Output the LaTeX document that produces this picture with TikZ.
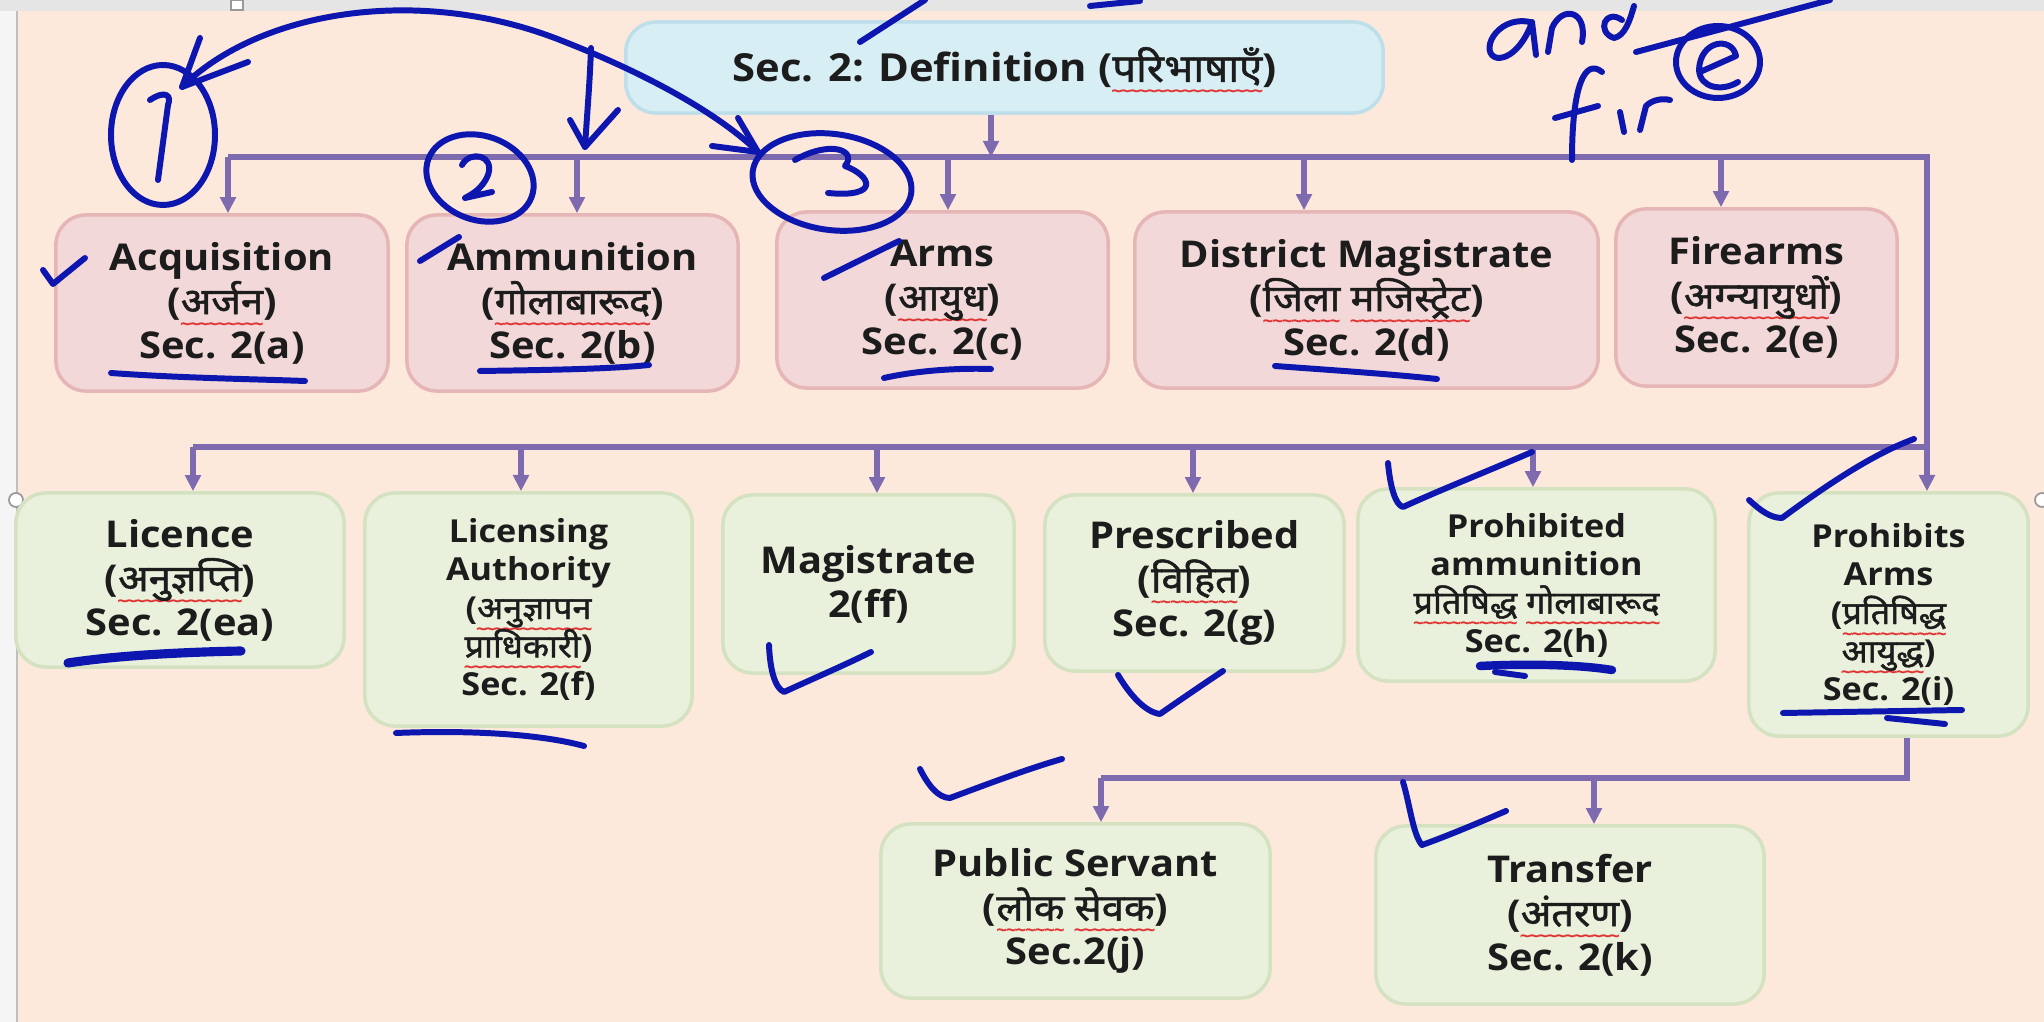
\documentclass[tikz,border=0pt]{standalone}
\usepackage{fontspec}
\setmainfont{Open Sans}[FakeStretch=1.08]
\newfontfamily\dev{Noto Sans}[Script=Devanagari,FakeStretch=1.08,FakeBold=1.4]
\usetikzlibrary{arrows.meta}
\definecolor{peach}{HTML}{FDE9DC}
\definecolor{tfill}{HTML}{D7EEF5}
\definecolor{tdraw}{HTML}{BEDEEA}
\definecolor{pfill}{HTML}{F2D8D8}
\definecolor{pdraw}{HTML}{E6B6B6}
\definecolor{gfill}{HTML}{E9F0DB}
\definecolor{gdraw}{HTML}{D5E2C1}
\definecolor{conn}{HTML}{7E6AAE}
\definecolor{ink}{HTML}{0D17B0}
\definecolor{sqred}{HTML}{E03030}
\definecolor{txt}{HTML}{1C1C1C}
\newcommand\sq[1]{\leavevmode\setbox0\hbox{#1}\rlap{\smash{\lower4.6pt\hbox to\wd0{\color{sqred}\fontsize{5}{5}\selectfont\xleaders\hbox{\kern-0.3pt\char"7E\kern-0.3pt}\hfill}}}\box0\relax}
\tikzset{
  box/.style={rounded corners=0.3cm, line width=1pt, align=center, inner sep=0pt, text=txt,
              font=\bfseries\fontsize{10.5}{12.5}\selectfont},
  small/.style={font=\bfseries\fontsize{9}{10.9}\selectfont},
  pinkbox/.style={box, fill=pfill, draw=pdraw},
  greenbox/.style={box, fill=gfill, draw=gdraw},
  titlebox/.style={box, fill=tfill, draw=tdraw, font=\bfseries\fontsize{11}{13}\selectfont},
  cn/.style={draw=conn, line width=1.6pt},
  arr/.style={cn, -{Triangle[length=4.6pt,width=4.4pt]}},
  inkpen/.style={draw=ink, line width=1.7pt, line cap=round, line join=round},
}
\begin{document}
\begin{tikzpicture}[x=0.01cm,y=-0.01cm]
\useasboundingbox (0,0) rectangle (2044,1022);
% page background
\fill[white!96!black] (0,0) rectangle (2044,1022);
\fill[peach] (18,11) rectangle (2044,1022);
\fill[white!90!black] (0,0) rectangle (2044,11);
\draw[white!75!black, line width=0.6pt] (17,11) -- (17,1022);
\draw[white!60!black, fill=white, line width=0.5pt] (16,500) circle [radius=7];
\draw[white!60!black, fill=white, line width=0.5pt] (2042,500) circle [radius=7];
\draw[white!60!black, fill=white, line width=0.5pt] (231,0) rectangle (243,10);

% nodes
\node[titlebox, minimum width=7.57cm, minimum height=0.91cm] (title) at (1004.5,67.5) {Sec. 2: Definition (\sq{\dev परिभाषाएँ})};

\node[pinkbox, minimum width=3.32cm, minimum height=1.76cm] (acq) at (222,303) {Acquisition\\(\sq{\dev अर्जन})\\Sec. 2(a)};
\node[pinkbox, minimum width=3.31cm, minimum height=1.76cm] (amm) at (572.5,303) {Ammunition\\(\sq{\dev गोलाबारूद})\\Sec. 2(b)};
\node[pinkbox, minimum width=3.31cm, minimum height=1.76cm] (arms) at (942.5,300) {Arms\\(\sq{\dev आयुध})\\Sec. 2(c)};
\node[pinkbox, minimum width=4.63cm, minimum height=1.76cm] (dm) at (1366.5,300) {District Magistrate\\(\sq{\dev जिला} \sq{\dev मजिस्ट्रेट})\\Sec. 2(d)};
\node[pinkbox, minimum width=2.81cm, minimum height=1.77cm] (fire) at (1756.5,297.5) {Firearms\\(\sq{\dev अग्न्यायुधों})\\Sec. 2(e)};

\node[greenbox, minimum width=3.28cm, minimum height=1.74cm] (lic) at (180,580) {Licence\\(\sq{\dev अनुज्ञप्ति})\\Sec. 2(ea)};
\node[greenbox, small, minimum width=3.27cm, minimum height=2.33cm] (la) at (528.5,609.5) {Licensing\\Authority\\(\sq{\dev अनुज्ञापन}\\\sq{\dev प्राधिकारी})\\Sec. 2(f)};
\node[greenbox, minimum width=2.91cm, minimum height=1.78cm] (mag) at (868.5,584) {Magistrate\\2(ff)};
\node[greenbox, minimum width=2.99cm, minimum height=1.76cm] (pres) at (1194.5,583) {Prescribed\\(\sq{\dev विहित})\\Sec. 2(g)};
\node[greenbox, small, minimum width=3.57cm, minimum height=1.92cm] (pa) at (1536.5,585) {Prohibited\\ammunition\\\sq{\dev प्रतिषिद्ध} \sq{\dev गोलाबारूद}\\Sec. 2(h)};
\node[greenbox, small, minimum width=2.79cm, minimum height=2.43cm] (parms) at (1888.5,614.5) {Prohibits\\Arms\\(\sq{\dev प्रतिषिद्ध}\\\sq{\dev आयुद्ध})\\Sec. 2(i)};

\node[greenbox, minimum width=3.89cm, minimum height=1.74cm] (ps) at (1075.5,911) {Public Servant\\(\sq{\dev लोक} \sq{\dev सेवक})\\Sec.2(j)};
\node[greenbox, minimum width=3.88cm, minimum height=1.78cm] (tr) at (1570,915) {Transfer\\(\sq{\dev अंतरण})\\Sec. 2(k)};

% connectors
\coordinate (t0) at (991,157);
\draw[arr] (title.south -| t0) -- (t0);
\coordinate (b1L) at (228,157);
\coordinate (b1R) at (1927,157);
\draw[arr] (b1L) -- (b1R) -- (b1R |- parms.north);
\foreach \x/\n in {228/acq, 577/amm, 948/arms, 1304/dm, 1721/fire}{
  \coordinate (d) at (\x,157);
  \draw[arr] (d) -- (d |- \n.north);
}
\coordinate (b2L) at (193,447);
\coordinate (b2R) at (1927,447);
\draw[cn] (b2L) -- (b2R);
\foreach \x/\n in {193/lic, 521/la, 877/mag, 1193/pres, 1533/pa}{
  \coordinate (d) at (\x,447);
  \draw[arr] (d) -- (d |- \n.north);
}
\coordinate (p3) at (1907,778);
\coordinate (b3L) at (1101,778);
\coordinate (b3M) at (1594,778);
\draw[cn] (parms.south -| p3) -- (p3) -- (b3L);
\draw[arr] (b3L) -- (b3L |- ps.north);
\draw[arr] (b3M) -- (b3M |- tr.north);

% handwritten ink
\draw[inkpen] (182,87) .. controls (260,10) and (420,-15) .. (560,40) .. controls (650,75) and (720,115) .. (758,152);
\draw[inkpen] (200,38) -- (182,87) -- (248,62);
\draw[inkpen] (712,146) -- (758,152) -- (738,118);
\draw[inkpen] (591,48) .. controls (590,80) and (587,115) .. (585,147);
\draw[inkpen] (570,120) -- (585,147) -- (618,110);
\draw[inkpen] (163,135) ellipse [x radius=52, y radius=70];
\draw[inkpen] (150,100) .. controls (165,90) and (172,95) .. (168,105) -- (158,180);
\draw[inkpen, rotate around={-20:(480,178)}] (480,178) ellipse [x radius=55, y radius=42];
\draw[inkpen] (462,165) .. controls (470,150) and (495,155) .. (488,175) .. controls (482,190) and (470,195) .. (465,198) -- (492,192);
\draw[inkpen, rotate around={-8:(832,182)}] (832,182) ellipse [x radius=80, y radius=48];
\draw[inkpen] (795,160) .. controls (830,140) and (858,150) .. (845,166) .. controls (872,176) and (880,198) .. (828,193);
\draw[inkpen] (860,42) -- (925,0);
\draw[inkpen] (1090,6) -- (1140,1);
% "and" / "fire"
\draw[inkpen] (1530,22) .. controls (1495,15) and (1478,55) .. (1498,58) .. controls (1515,58) and (1528,35) .. (1532,22) -- (1536,55);
\draw[inkpen] (1548,52) -- (1552,28) .. controls (1562,5) and (1588,10) .. (1582,42);
\draw[inkpen] (1622,20) .. controls (1605,8) and (1596,32) .. (1614,38) .. controls (1625,36) and (1630,20) .. (1634,6);
\draw[inkpen] (1636,52) -- (1830,0);
\draw[inkpen] (1602,72) .. controls (1585,58) and (1572,85) .. (1572,160);
\draw[inkpen] (1555,118) -- (1598,106);
\draw[inkpen] (1620,112) -- (1624,132);
\draw[inkpen] (1640,130) -- (1646,106) .. controls (1652,100) and (1662,98) .. (1670,100);
\draw[inkpen] (1718,62) ellipse [x radius=42, y radius=36];
\draw[inkpen] (1700,72) -- (1736,56) .. controls (1732,36) and (1700,40) .. (1699,70) .. controls (1700,88) and (1722,92) .. (1738,82);
% row 1 marks
\draw[inkpen] (43,270) -- (53,284) -- (85,258);
\draw[inkpen] (420,261) -- (459,237);
\draw[inkpen] (824,278) -- (899,241);
\draw[inkpen] (111,373) .. controls (180,378) and (250,379) .. (305,381);
\draw[inkpen] (480,371) .. controls (550,370) and (610,369) .. (649,365);
\draw[inkpen] (884,378) .. controls (920,370) and (960,368) .. (991,369);
\draw[inkpen] (1275,366) .. controls (1330,370) and (1390,374) .. (1437,379);
% row 2 marks
\draw[inkpen, line width=2.6pt] (68,663) .. controls (120,655) and (190,652) .. (241,651);
\draw[inkpen] (396,733) .. controls (470,730) and (540,734) .. (584,746);
\draw[inkpen] (769,645) .. controls (770,670) and (775,688) .. (784,692) .. controls (810,680) and (845,665) .. (871,652);
\draw[inkpen] (1118,675) .. controls (1130,695) and (1145,712) .. (1160,714) .. controls (1180,700) and (1205,683) .. (1223,671);
\draw[inkpen] (1388,463) .. controls (1390,485) and (1395,505) .. (1403,507) .. controls (1440,490) and (1500,466) .. (1532,452);
\draw[inkpen, line width=2.4pt] (1480,666) .. controls (1520,664) and (1575,664) .. (1612,670);
\draw[inkpen] (1495,672) -- (1525,676);
\draw[inkpen] (1749,500) .. controls (1760,510) and (1770,518) .. (1782,518) .. controls (1820,490) and (1870,455) .. (1914,439);
\draw[inkpen] (1783,713) -- (1962,710);
\draw[inkpen] (1887,718) -- (1945,724);
% row 3 marks
\draw[inkpen] (920,769) .. controls (928,785) and (938,798) .. (950,798) .. controls (985,785) and (1030,768) .. (1062,759);
\draw[inkpen] (1403,782) .. controls (1410,805) and (1413,835) .. (1422,845) .. controls (1450,835) and (1485,820) .. (1506,811);
\end{tikzpicture}
\end{document}
